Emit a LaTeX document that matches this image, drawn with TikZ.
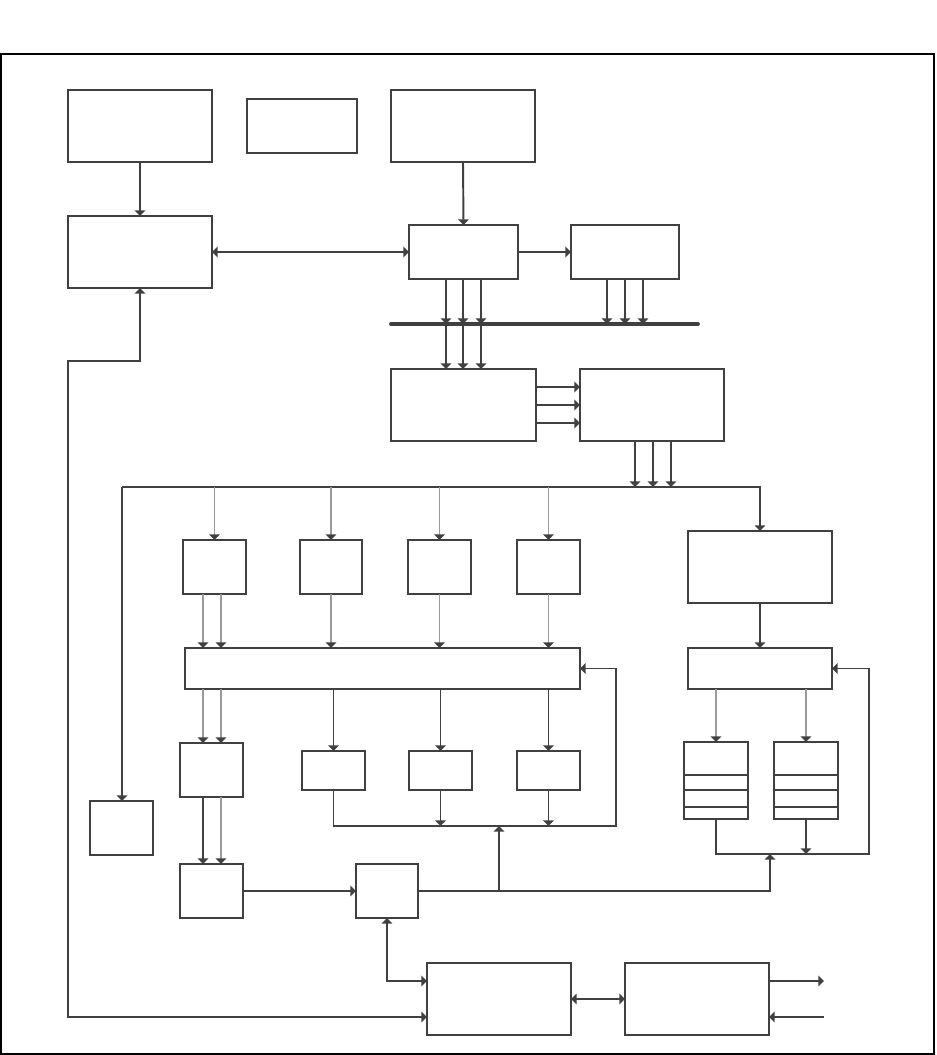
\documentclass[tikz,border=0pt]{standalone}
\usetikzlibrary{arrows.meta,calc}
\definecolor{lc}{HTML}{404040}
\definecolor{lg}{HTML}{9A9A9A}
\tikzset{
  box/.style={draw=lc, line width=0.55pt, rectangle, inner sep=0pt, outer sep=0pt},
  ln/.style={draw=lc, line width=0.55pt},
  arr/.style={ln, -{Triangle[width=3pt,length=1.6pt,color=lc]}},
  arrg/.style={draw=lg, line width=0.55pt, -{Triangle[width=3pt,length=1.6pt,color=lc]}},
  dbl/.style={ln, {Triangle[width=3pt,length=1.6pt,color=lc]}-{Triangle[width=3pt,length=1.6pt,color=lc]}},
}
\newcommand{\bx}[5]{\node[box, anchor=north west, minimum width=#4*0.01cm, minimum height=#5*0.01cm] (#1) at (#2,#3) {};}
\begin{document}
\begin{tikzpicture}[x=0.01cm,y=-0.01cm]
\useasboundingbox (0,0) rectangle (937,1055);
\node[draw=black, line width=0.6pt, anchor=north west, minimum width=933*0.01cm, minimum height=1000*0.01cm, inner sep=0pt, outer sep=0pt] (frame) at (1,54) {};
\bx{A}{68}{90}{144}{72}
\bx{B}{247}{99}{110}{54}
\bx{C}{391}{90}{144}{72}
\bx{D}{68}{216}{144}{72}
\bx{E}{409}{225}{109}{54}
\bx{F}{571}{225}{108}{54}
\bx{G}{391}{369}{145}{72}
\bx{H}{580}{369}{144}{72}
\bx{I}{688}{531}{144}{72}
\bx{J}{90}{801}{63}{54}
\bx{K1}{183}{540}{63}{54}
\bx{K2}{300}{540}{62}{54}
\bx{K3}{408}{540}{63}{54}
\bx{K4}{517}{540}{63}{54}
\bx{L}{185}{648}{395}{41}
\bx{S}{688}{648}{144}{41}
\bx{M}{180}{743}{63}{54}
\bx{N1}{302}{751}{63}{39}
\bx{N2}{409}{751}{63}{39}
\bx{N3}{517}{751}{63}{39}
\bx{T1}{684}{742}{64}{77}
\bx{T2}{774}{742}{64}{77}
\bx{O}{180}{864}{63}{54}
\bx{P}{356}{864}{62}{54}
\bx{Q}{427}{963}{144}{72}
\bx{R}{625}{963}{144}{72}
\foreach \t in {T1,T2} \foreach \yy in {775,790,807} \draw[ln] (\t.west |- 0,\yy) -- (\t.east |- 0,\yy);
% bus
\coordinate (busL) at (391,324); \coordinate (busR) at (698,324);
\draw[draw=lc, line width=1.1pt, line cap=round] (busL) -- (busR);
% top
\draw[arr] (A.south) -- (D.north);
\draw[arr] (C.south) -- (E.north);
\draw[dbl] (D.east) -- (E.west);
\draw[arr] (E.east) -- (F.west);
\foreach \xx in {446,463,481} {
  \draw[arr] (\xx,0 |- E.south) -- (\xx,0 |- busL);
  \draw[arr] (\xx,0 |- busL) -- (\xx,0 |- G.north);
}
\foreach \xx in {607,625,643} \draw[arr] (\xx,0 |- F.south) -- (\xx,0 |- busL);
\foreach \yy in {387,405,423} \draw[arr] (G.east |- 0,\yy) -- (H.west |- 0,\yy);
% distribution line
\coordinate (hl) at (122,487); \coordinate (hr) at (760,487);
\foreach \xx in {635,653,671} \draw[arr] (\xx,0 |- H.south) -- (\xx,0 |- hl);
\draw[arr] (hl) -- (hr) -- (I.north);
\draw[arr] (hl) -- (hl |- J.north);
\foreach \k in {K1,K2,K3,K4} \draw[arrg] (\k.north |- hl) -- (\k.north);
\foreach \xx in {203,221} {
  \draw[arrg] (\xx,0 |- K1.south) -- (\xx,0 |- L.north);
  \draw[arrg] (\xx,0 |- L.south) -- (\xx,0 |- M.north);
}
\foreach \k in {K2,K3,K4} \draw[arrg] (\k.south) -- (\k.south |- L.north);
\foreach \n in {N1,N2,N3} \draw[arr] (\n.north |- L.south) -- (\n.north);
\coordinate (lp) at (616,826);
\draw[arr] (N1.south) -- (N1.south |- lp) -- (lp) -- (lp |- L.east) -- (L.east);
\draw[arr] (N2.south) -- (N2.south |- lp);
\draw[arr] (N3.south) -- (N3.south |- lp);
\draw[arr] (203,0 |- M.south) -- (203,0 |- O.north);
\draw[arrg] (221,0 |- M.south) -- (221,0 |- O.north);
\draw[arr] (O.east) -- (P.west);
% right column
\draw[arr] (I.south) -- (S.north);
\draw[arrg] (T1.north |- S.south) -- (T1.north);
\draw[arrg] (T2.north |- S.south) -- (T2.north);
\coordinate (tl) at (869,854);
\draw[arr] (T1.south) -- (T1.south |- tl) -- (tl) -- (tl |- S.east) -- (S.east);
\draw[arr] (T2.south) -- (T2.south |- tl);
\coordinate (pj) at (499,891); \coordinate (pr) at (770,891);
\draw[arr] (P.east) -- (pr) -- (pr |- tl);
\draw[arr] (pj) -- (pj |- lp);
% bottom
\draw[dbl] (P.south) -- (P.south |- 0,981) -- (Q.west |- 0,981);
\coordinate (c1) at (68,361); \coordinate (c2) at (68,1017);
\draw[dbl] (D.south) -- (D.south |- c1) -- (c1) -- (c2) -- (c2 -| Q.west);
\draw[dbl] (Q.east) -- (R.west);
\coordinate (out1) at (824,981); \coordinate (in1) at (824,1017);
\draw[arr] (R.east |- out1) -- (out1);
\draw[arr] (in1) -- (R.east |- in1);
\end{tikzpicture}
\end{document}
